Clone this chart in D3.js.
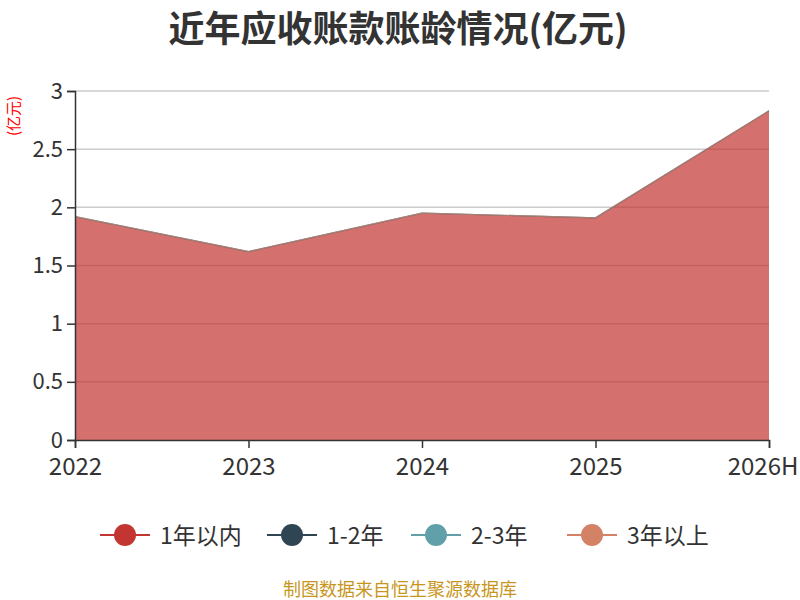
<!DOCTYPE html>
<html>
<head>
<meta charset="utf-8">
<title>近年应收账款账龄情况</title>
<style>
    body { margin: 0; padding: 0; background: #fff; }
    svg { display: block; font-family: "Noto Sans CJK SC", "Noto Sans", sans-serif; }
</style>
</head>
<body>
<div id="chart"></div>
<script src="https://d3js.org/d3.v7.min.js"></script>
<script>
// data
const years = ['2022', '2023', '2024', '2025', '2026H'];
const seriesNames = ['1年以内', '1-2年', '2-3年', '3年以上'];
const seriesColors = ['#c23531', '#2f4554', '#61a0a8', '#d48265'];
const within1 = [1.92, 1.62, 1.95, 1.91, 2.83];
const y1to2 = [0, 0, 0, 0, 0];
const y2to3 = [0, 0, 0, 0, 0];
const over3 = [0, 0, 0, 0, 0];
const yTicks = [0, 0.5, 1, 1.5, 2, 2.5, 3];

const width = 800, height = 600;
const margin = { top: 91, right: 31, bottom: 160, left: 75 };

const svg = d3.select('#chart').append('svg')
    .attr('width', width)
    .attr('height', height);

const x = d3.scalePoint()
    .domain(years)
    .range([margin.left, width - margin.right]);

const y = d3.scaleLinear()
    .domain([0, 3])
    .range([height - margin.bottom, margin.top]);

// title
svg.append('text')
    .attr('x', 398).attr('y', 42)
    .attr('text-anchor', 'middle')
    .attr('font-size', 36).attr('font-weight', 'bold')
    .attr('fill', '#333')
    .text('近年应收账款账龄情况(亿元)');

// unit label
svg.append('text')
    .attr('transform', 'translate(19,116) rotate(-90)')
    .attr('text-anchor', 'middle')
    .attr('font-size', 15)
    .attr('fill', '#ff0000')
    .text('(亿元)');

// grid lines
svg.append('g')
    .selectAll('line')
    .data(yTicks.filter(d => d > 0))
    .enter().append('line')
    .attr('x1', margin.left).attr('x2', width - margin.right)
    .attr('y1', d => y(d)).attr('y2', d => y(d))
    .attr('stroke', '#ccc').attr('stroke-width', 1.5);

// stacked series
const rows = years.map((yr, i) => ({
    year: yr,
    s0: within1[i], s1: y1to2[i], s2: y2to3[i], s3: over3[i]
}));
const stacked = d3.stack().keys(['s0', 's1', 's2', 's3'])(rows);

const area = d3.area()
    .x(d => x(d.data.year))
    .y0(d => y(d[0]))
    .y1(d => y(d[1]));

const line = d3.line()
    .x(d => x(d.data.year))
    .y(d => y(d[1]));

svg.append('g')
    .selectAll('path')
    .data(stacked)
    .enter().append('path')
    .attr('d', area)
    .attr('fill', (d, i) => seriesColors[i])
    .attr('fill-opacity', 0.7);

svg.append('g')
    .selectAll('path')
    .data(stacked)
    .enter().append('path')
    .attr('d', line)
    .attr('fill', 'none')
    .attr('stroke', (d, i) => seriesColors[i])
    .attr('stroke-opacity', 0.45)
    .attr('stroke-width', 1.2);

// axes
const yAxis = svg.append('g')
    .attr('transform', `translate(${margin.left},0)`)
    .call(d3.axisLeft(y).tickValues(yTicks).tickSize(8).tickPadding(4).tickFormat(d3.format('')));
yAxis.select('.domain').attr('stroke', '#333').attr('stroke-width', 1.5);
yAxis.selectAll('.tick line').attr('stroke', '#333').attr('stroke-width', 1.5);
yAxis.selectAll('.tick text').attr('font-size', 22).attr('fill', '#333')
    .attr('font-family', '"Noto Sans CJK SC", sans-serif');

const xAxis = svg.append('g')
    .attr('transform', `translate(0,${y(0)})`)
    .call(d3.axisBottom(x).tickSize(8));
xAxis.select('.domain').attr('stroke', '#333').attr('stroke-width', 1.5);
xAxis.selectAll('.tick line').attr('stroke', '#333').attr('stroke-width', 1.5);
xAxis.selectAll('.tick text')
    .attr('font-size', 24).attr('fill', '#333')
    .attr('font-family', '"Noto Sans CJK SC", sans-serif')
    .attr('dy', null).attr('y', 35);
// last label kept inside the canvas
xAxis.selectAll('.tick text').filter(d => d === '2026H')
    .attr('text-anchor', 'end').attr('x', 798 - x('2026H'));

// legend
const legendX = [100, 267, 411, 567];
const legend = svg.append('g')
    .selectAll('g')
    .data(seriesNames)
    .enter().append('g')
    .attr('transform', (d, i) => `translate(${legendX[i]},535)`);

legend.append('line')
    .attr('x1', 0).attr('x2', 50)
    .attr('stroke', (d, i) => seriesColors[i]).attr('stroke-width', 2);
legend.append('circle')
    .attr('cx', 25).attr('r', 11)
    .attr('fill', (d, i) => seriesColors[i]);
legend.append('text')
    .attr('x', 60).attr('y', 9)
    .attr('font-size', 23).attr('fill', '#333')
    .text(d => d);

// source note
svg.append('text')
    .attr('x', 400).attr('y', 596)
    .attr('text-anchor', 'middle')
    .attr('font-size', 18)
    .attr('fill', '#c8961e')
    .text('制图数据来自恒生聚源数据库');
</script>
</body>
</html>
